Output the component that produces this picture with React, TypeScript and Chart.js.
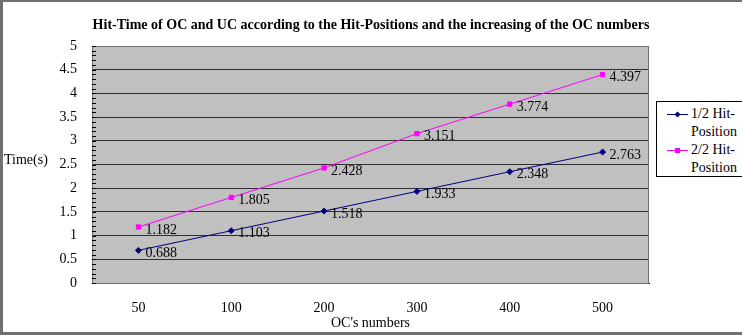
import React, { useEffect, useRef } from "react";
import { Chart, registerables } from "chart.js";

Chart.register(...registerables);

const categories = ["50", "100", "200", "300", "400", "500"];
const seriesHalf = [0.688, 1.103, 1.518, 1.933, 2.348, 2.763];
const seriesFull = [1.182, 1.805, 2.428, 3.151, 3.774, 4.397];
const seriesNames = ["1/2 Hit-Position", "2/2 Hit-Position"];
const legendLines = [["1/2 Hit-", "Position"], ["2/2 Hit-", "Position"]];
const chartTitle = "Hit-Time of OC and UC according to the Hit-Positions and the increasing of the OC numbers";
const xTitle = "OC's numbers";
const yTitle = "Time(s)";
const yMin = 0;
const yMax = 5;
const yStep = 0.5;
const minorStep = 0.1;

const FONT = "'Liberation Serif', 'Times New Roman', serif";
const colors = ["#000080", "#FF00FF"];

const plotPlugin = {
  id: "plotDecor",
  beforeDraw(chart: any) {
    const { ctx, chartArea } = chart;
    ctx.save();
    ctx.fillStyle = "#C0C0C0";
    ctx.fillRect(chartArea.left, chartArea.top, chartArea.right - chartArea.left, chartArea.bottom - chartArea.top);
    ctx.restore();
  },
  afterDraw(chart: any) {
    const { ctx, chartArea, scales, width } = chart;
    const y = scales.y;
    ctx.save();
    // main title
    ctx.fillStyle = "#000";
    ctx.font = `bold 14px ${FONT}`;
    ctx.textAlign = "center";
    ctx.textBaseline = "middle";
    ctx.fillText(chartTitle, width / 2, 25);
    // plot border
    ctx.strokeStyle = "#707070";
    ctx.lineWidth = 1;
    ctx.strokeRect(Math.round(chartArea.left) + 0.5, Math.round(chartArea.top) + 0.5,
      Math.round(chartArea.right - chartArea.left) - 1, Math.round(chartArea.bottom - chartArea.top));
    // minor ticks on y axis
    ctx.strokeStyle = "#000";
    const n = Math.round((yMax - yMin) / minorStep);
    ctx.beginPath();
    for (let i = 0; i <= n; i++) {
      const py = Math.round(y.getPixelForValue(yMin + i * minorStep)) + 0.5;
      ctx.moveTo(chartArea.left, py);
      ctx.lineTo(chartArea.left + 4, py);
    }
    ctx.stroke();
    // y axis title, horizontal
    ctx.font = `14px ${FONT}`;
    ctx.textAlign = "left";
    ctx.textBaseline = "middle";
    ctx.fillText(yTitle, 4, (chartArea.top + chartArea.bottom) / 2 - 4);
    // data labels
    chart.data.datasets.forEach((ds: any, di: number) => {
      const meta = chart.getDatasetMeta(di);
      meta.data.forEach((pt: any, i: number) => {
        ctx.fillText(ds.data[i].toFixed(3), pt.x + 7, pt.y + 3);
      });
    });
    ctx.restore();
  },
};

export default function App() {
  const ref = useRef<HTMLCanvasElement>(null);
  useEffect(() => {
    if (!ref.current) return;
    const chart = new Chart(ref.current, {
      type: "line",
      data: {
        labels: categories,
        datasets: [
          {
            label: seriesNames[0],
            data: seriesHalf,
            borderColor: colors[0],
            backgroundColor: colors[0],
            borderWidth: 1,
            pointStyle: "rectRot",
            pointRadius: 3,
            pointBorderWidth: 1,
          },
          {
            label: seriesNames[1],
            data: seriesFull,
            borderColor: colors[1],
            backgroundColor: colors[1],
            borderWidth: 1,
            pointStyle: "rect",
            pointRadius: 3,
            pointBorderWidth: 1,
          },
        ],
      },
      options: {
        responsive: false,
        animation: false,
        layout: { padding: { left: 0, right: 93, top: 46, bottom: 0 } },
        plugins: {
          legend: { display: false },
          tooltip: { enabled: false },
          title: { display: false },
        },
        scales: {
          x: {
            type: "category",
            offset: true,
            grid: { display: false, drawTicks: false },
            border: { display: true, color: "#000" },
            ticks: { color: "#000", font: { family: FONT, size: 14 }, padding: 17, maxRotation: 0 },
            title: {
              display: true,
              text: xTitle,
              color: "#000",
              font: { family: FONT, size: 14 },
              padding: { top: 0, bottom: 3 },
            },
            afterFit: (scale: any) => {
              scale.height = 52;
            },
          },
          y: {
            min: yMin,
            max: yMax,
            grid: { color: "#303030", lineWidth: 1, drawTicks: false },
            border: { display: true, color: "#000" },
            ticks: {
              stepSize: yStep,
              color: "#000",
              font: { family: FONT, size: 14 },
              padding: 15,
              callback: (v: any) => String(v),
            },
            afterFit: (scale: any) => {
              scale.width = 92;
            },
          },
        },
      },
      plugins: [plotPlugin],
    });
    return () => chart.destroy();
  }, []);

  return (
    <div style={{ position: "absolute", left: 0, top: 0, width: 742, height: 335, background: "#fff" }}>
      <canvas ref={ref} width={742} height={335} style={{ position: "absolute", left: 0, top: 0 }} />
      <div
        style={{
          position: "absolute",
          left: 656,
          top: 101,
          width: 86,
          height: 76,
          boxSizing: "border-box",
          border: "1px solid #000",
          borderRight: "none",
          background: "#fff",
          fontFamily: FONT,
          fontSize: 14,
          color: "#000",
        }}
      >
        {legendLines.map((lines, i) => (
          <div key={i} style={{ position: "absolute", left: 0, top: 3 + i * 36, width: 86 }}>
            <div style={{ position: "absolute", left: 10, top: 9, width: 21, height: 1, background: colors[i] }} />
            <div
              style={{
                position: "absolute",
                left: 18,
                top: 7,
                width: 5,
                height: 5,
                background: colors[i],
                transform: i === 0 ? "rotate(45deg) scale(0.85)" : "none",
              }}
            />
            <div style={{ position: "absolute", left: 34, top: 0, lineHeight: "18px", whiteSpace: "nowrap" }}>
              {lines.map((l, j) => (
                <div key={j}>{l}</div>
              ))}
            </div>
          </div>
        ))}
      </div>
      <div
        style={{
          position: "absolute",
          left: 0,
          top: 0,
          width: 742,
          height: 335,
          boxSizing: "border-box",
          borderLeft: "3px solid #707070",
          borderTop: "2px solid #707070",
          borderBottom: "3px solid #707070",
          pointerEvents: "none",
        }}
      />
    </div>
  );
}
